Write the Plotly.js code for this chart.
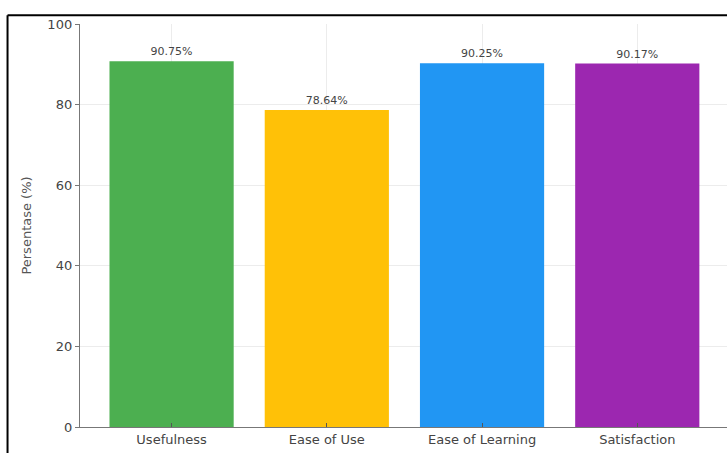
<!DOCTYPE html>
<html>
<head>
<meta charset="utf-8">
<script src="https://cdn.plot.ly/plotly-3.0.1.min.js"></script>
<style>html,body{margin:0;padding:0;background:#fff;}#chart{width:727px;height:453px;}</style>
</head>
<body>
<div id="chart"></div>
<script>
const categories = ["Usefulness", "Ease of Use", "Ease of Learning", "Satisfaction"];
const values = [90.75, 78.64, 90.25, 90.17];
const barColors = ["#4CAF50", "#FFC107", "#2196F3", "#9C27B0"];
const yTicks = [0, 20, 40, 60, 80, 100];

const trace = {
  type: "bar",
  x: categories.map((c, i) => i),
  y: values,
  width: 0.8,
  marker: {color: barColors, line: {width: 0}},
  text: values.map(v => v.toFixed(2) + "%"),
  textposition: "outside",
  textfont: {family: "DejaVu Sans", size: 11, color: "#444"},
  cliponaxis: false,
  hoverinfo: "skip"
};

const layout = {
  width: 727, height: 453,
  margin: {l: 80, r: 0, t: 24, b: 26},
  paper_bgcolor: "#fff", plot_bgcolor: "#fff",
  showlegend: false,
  font: {family: "DejaVu Sans", color: "#444"},
  xaxis: {
    range: [-0.59, 3.578],
    tickmode: "array", tickvals: categories.map((c, i) => i), ticktext: categories,
    tickfont: {size: 13, color: "#444"},
    showgrid: true, gridcolor: "#ececec", gridwidth: 1,
    showline: true, linecolor: "#777", linewidth: 1.2,
    ticks: "inside", ticklen: 4, tickcolor: "#555",
    zeroline: false, fixedrange: true
  },
  yaxis: {
    range: [0, 100],
    tickmode: "array", tickvals: yTicks,
    tickfont: {size: 13, color: "#444"},
    title: {text: "Persentase (%)", font: {size: 13, color: "#555"}, standoff: 12},
    showgrid: true, gridcolor: "#ececec", gridwidth: 1,
    showline: true, linecolor: "#777", linewidth: 1.2,
    ticks: "outside", ticklen: 4, tickcolor: "#777",
    zeroline: false, fixedrange: true
  },
  shapes: [
    {type: "line", xref: "paper", yref: "paper", x0: -0.112, x1: 1.02, y0: 1.022, y1: 1.022, line: {color: "#000", width: 2}},
    {type: "line", xref: "paper", yref: "paper", x0: -0.112, x1: -0.112, y0: 1.022, y1: -0.1, line: {color: "#000", width: 2}}
  ]
};

Plotly.newPlot("chart", [trace], layout, {displayModeBar: false, staticPlot: true});
</script>
</body>
</html>
